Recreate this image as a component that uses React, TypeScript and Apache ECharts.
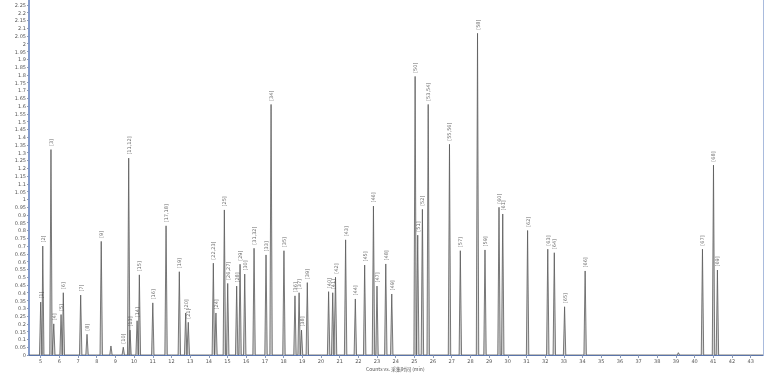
import React, { useEffect, useRef } from "react";
import * as echarts from "echarts";

// Retention times (min)
const peakTimes = [
  5.0, 5.11, 5.55, 5.7, 6.09, 6.21, 7.14, 7.48, 8.24, 8.76, 9.42, 9.71, 9.78, 10.16, 10.28,
  11.0, 11.71, 12.42, 12.76, 12.9, 14.24, 14.38, 14.83, 15.01, 15.49, 15.67, 15.92, 16.42,
  17.06, 17.33, 18.02, 18.61, 18.83, 18.96, 19.27, 20.41, 20.63, 20.78, 21.32, 21.84, 22.34,
  22.81, 23.0, 23.47, 23.79, 25.04, 25.18, 25.43, 25.74, 26.88, 27.46, 28.38, 28.78, 29.53,
  29.73, 31.06, 32.14, 32.49, 33.04, 34.14, 39.13, 40.42, 41.01, 41.22,
];
// Peak heights (counts)
const peakHeights = [
  0.34, 0.7, 1.32, 0.2, 0.26, 0.4, 0.385, 0.133, 0.73, 0.058, 0.05, 1.265, 0.16, 0.22, 0.515,
  0.335, 0.83, 0.535, 0.27, 0.21, 0.59, 0.27, 0.932, 0.46, 0.443, 0.583, 0.52, 0.686,
  0.643, 1.61, 0.67, 0.38, 0.4, 0.16, 0.465, 0.407, 0.4, 0.5, 0.74, 0.36, 0.578,
  0.957, 0.443, 0.585, 0.392, 1.79, 0.77, 0.936, 1.61, 1.354, 0.67, 2.067, 0.675, 0.949,
  0.906, 0.8, 0.68, 0.657, 0.31, 0.54, 0.015, 0.68, 1.22, 0.546,
];
// Peak labels
const peakLabels = [
  "[1]", "[2]", "[3]", "[4]", "[5]", "[6]", "[7]", "[8]", "[9]", "", "[10]", "[11,12]", "[13]", "[14]", "[15]",
  "[16]", "[17,18]", "[19]", "[20]", "[21]", "[22,23]", "[24]", "[25]", "[26,27]", "[28]", "[29]", "[30]", "[31,32]",
  "[33]", "[34]", "[35]", "[36]", "[37]", "[38]", "[39]", "[40]", "[41]", "[42]", "[43]", "[44]", "[45]",
  "[46]", "[47]", "[48]", "[49]", "[50]", "[51]", "[52]", "[53,54]", "[55,56]", "[57]", "[58]", "[59]", "[60]",
  "[61]", "[62]", "[63]", "[64]", "[65]", "[66]", "", "[67]", "[68]", "[69]",
];
const xTickValues = [
  5, 6, 7, 8, 9, 10, 11, 12, 13, 14, 15, 16, 17, 18, 19, 20, 21, 22, 23, 24, 25, 26, 27, 28,
  29, 30, 31, 32, 33, 34, 35, 36, 37, 38, 39, 40, 41, 42, 43,
];
const xMin = 4.374;
const xMax = 43.66;
const yMax = 2.281;
const axisTitle = "Counts vs. 采集时间 (min)";

const HALF_WIDTH = 0.065;
const AXIS_BLUE = "#5b7bbd";

export default function App() {
  const ref = useRef<HTMLDivElement>(null);
  useEffect(() => {
    if (!ref.current) return;
    const chart = echarts.init(ref.current, null, { renderer: "svg" });

    const trace: (number[])[] = [[xMin, 0]];
    peakTimes.forEach((t, i) => {
      trace.push([t - HALF_WIDTH, 0], [t, peakHeights[i]], [t + HALF_WIDTH, 0]);
    });
    trace.push([xMax, 0]);

    const labelData = peakTimes.map((t, i) => ({ value: [t, peakHeights[i]], name: peakLabels[i] }));

    chart.setOption({
      animation: false,
      grid: { left: 29, right: 14, top: 0, bottom: 19, outerBoundsMode: "none", containLabel: false },
      graphic: [
        {
          type: "text",
          left: 366,
          top: 366,
          style: {
            text: axisTitle,
            fontSize: 5,
            fill: "#555",
            fontFamily: "Noto Sans CJK SC",
          },
        },
      ],
      xAxis: {
        type: "value",
        min: xMin,
        max: xMax,
        splitLine: { show: false },
        axisLine: { show: true, onZero: false, lineStyle: { color: AXIS_BLUE, width: 1.2 } },
        axisTick: { show: true, customValues: xTickValues, length: 3, lineStyle: { color: "#8899bb" } },
        axisLabel: {
          customValues: xTickValues,
          fontSize: 5,
          color: "#555",
          margin: 3,
          fontFamily: "DejaVu Sans",
        },
      },
      yAxis: [
        {
          type: "value",
          min: 0,
          max: yMax,
          interval: 0.05,
          splitLine: { show: false },
          axisLine: { show: true, lineStyle: { color: AXIS_BLUE, width: 1.5 } },
          axisTick: { show: true, length: 2, lineStyle: { color: "#8899bb" } },
          axisLabel: {
            showMaxLabel: false,
            fontSize: 5,
            color: "#555",
            margin: 3,
            fontFamily: "DejaVu Sans",
          },
        },
        {
          type: "value",
          position: "right",
          min: 0,
          max: yMax,
          splitLine: { show: false },
          axisLine: { show: true, lineStyle: { color: "#a9bbdd", width: 1 } },
          axisTick: { show: false },
          axisLabel: { show: false },
        },
      ],
      series: [
        {
          type: "line",
          data: trace,
          symbol: "none",
          lineStyle: { color: "#5a5a5a", width: 0.8 },
          areaStyle: { color: "#b5b5b5", opacity: 0.6 },
          z: 2,
        },
        {
          type: "scatter",
          data: labelData,
          symbolSize: 1,
          itemStyle: { color: "rgba(0,0,0,0)" },
          label: {
            show: true,
            formatter: (p: any) => p.name,
            position: "top",
            distance: 3,
            rotate: 90,
            align: "left",
            verticalAlign: "middle",
            fontSize: 5,
            color: "#444",
            fontFamily: "DejaVu Sans",
          },
          z: 3,
        },
      ],
    });
    return () => chart.dispose();
  }, []);
  return <div ref={ref} style={{ width: 777, height: 374, position: "fixed", left: 0, top: 0 }} />;
}
